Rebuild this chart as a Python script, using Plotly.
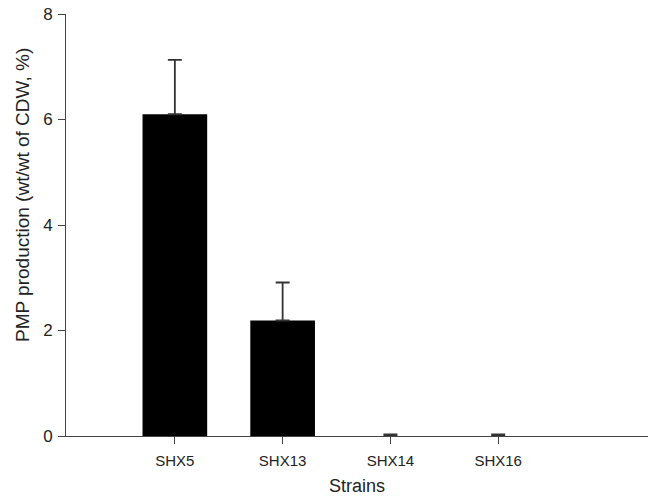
import plotly.graph_objects as go

# PMP production by strain
strains = ["SHX5", "SHX13", "SHX14", "SHX16"]
pmp_mean = [6.10, 2.19, 0.0, 0.0]
pmp_err = [1.03, 0.72, 0.03, 0.03]
y_ticks = [0, 2, 4, 6, 8]

fig = go.Figure(
    go.Bar(
        x=strains,
        y=pmp_mean,
        width=0.6,
        marker=dict(color="black", line=dict(width=0)),
        error_y=dict(type="data", array=pmp_err, symmetric=False,
                     arrayminus=[0, 0, 0, 0],
                     color="#333", thickness=1.8, width=7),
    )
)

fig.update_layout(
    width=648, height=496,
    margin=dict(l=66, r=0, t=14, b=60),
    plot_bgcolor="white", paper_bgcolor="white",
    font=dict(family="Liberation Sans, Arial, sans-serif", size=16, color="#222"),
    showlegend=False,
)
fig.update_xaxes(
    range=[-1.01, 4.39],
    showline=True, linecolor="#444", linewidth=1,
    ticks="outside", ticklen=7, tickcolor="#444",
    tickfont=dict(size=15), ticklabelstandoff=4,
    title=dict(text="Strains", font=dict(size=18), standoff=12),
    showgrid=False, zeroline=False,
)
fig.update_yaxes(
    range=[0, 8], tickvals=y_ticks,
    showline=True, linecolor="#444", linewidth=1,
    ticks="outside", ticklen=7, tickcolor="#444",
    tickfont=dict(size=17), ticklabelstandoff=2,
    showgrid=False, zeroline=False,
)

# y-axis title placed as a rotated annotation
fig.add_annotation(
    text="PMP production (wt/wt of CDW, %)",
    textangle=-90, font=dict(size=19),
    xref="paper", yref="paper",
    x=-(66 - 22) / 582, y=(436 - 195) / 422,
    xanchor="center", yanchor="middle", showarrow=False,
)

fig.write_html("out.html")
